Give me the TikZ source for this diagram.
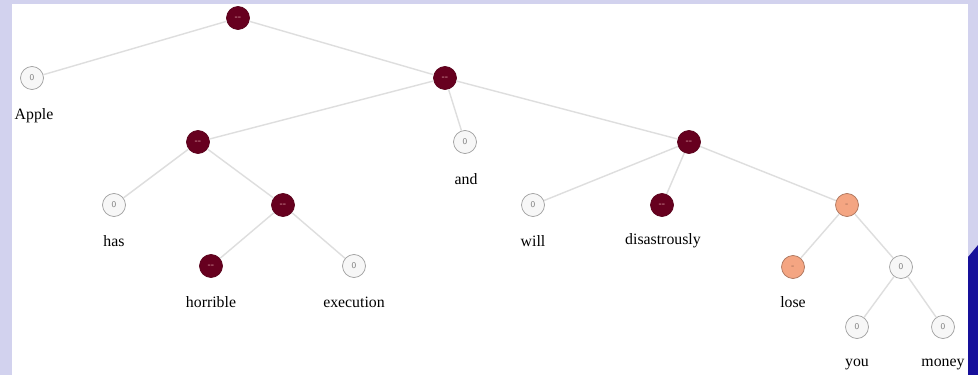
\documentclass[tikz,border=0pt]{standalone}
\usepackage{fontspec}
\setmainfont{Liberation Serif}
\usetikzlibrary{positioning}
\usepackage{xcolor}
\definecolor{frame}{HTML}{D2D2EE}
\definecolor{deepblue}{HTML}{17109A}
\definecolor{vneg}{HTML}{67001F}
\definecolor{neg}{HTML}{F4A582}
\definecolor{zero}{HTML}{F7F7F7}
\definecolor{branchc}{HTML}{DEDEDE}

\begin{document}
\begin{tikzpicture}[x=0.02cm, y=-0.02cm, font=\fontsize{9}{10}\selectfont]
				\tikzstyle{vnegnode} = [circle, draw=vneg!85!black, fill=vneg, minimum size=0.46cm, inner sep=0pt, text=pink!80, font=\sffamily\fontsize{5}{5}\selectfont]
				\tikzstyle{negnode} = [circle, draw=neg!70!black, fill=neg, minimum size=0.46cm, inner sep=0pt, text=neg!55!black, font=\sffamily\fontsize{5}{5}\selectfont]
				\tikzstyle{zeronode} = [circle, draw=gray!75, fill=zero, minimum size=0.46cm, inner sep=0pt, text=gray, font=\sffamily\fontsize{5}{5}\selectfont]
				\tikzstyle{word} = [draw=none, inner sep=0pt]
				\tikzstyle{branch} = [draw=branchc, line width=0.8pt]
				
				% frame of the screenshot
				\fill[frame] (0,0) rectangle (978,375);
				\fill[white] (12,4) rectangle (968,375);
				\fill[deepblue] (968,257) -- (978,245) -- (978,375) -- (968,375) -- cycle;
				
				\node[vnegnode] 	at (238, 18)	(root)	{-{}-};
				\node[zeronode] 	at (32, 78)		(apple)	{0};
				\node[vnegnode] 	at (445, 78)	(p1)	{-{}-};
				\node[vnegnode] 	at (198, 142)	(p2)	{-{}-};
				\node[zeronode] 	at (465, 142)	(and)	{0};
				\node[vnegnode] 	at (689, 142)	(p3)	{-{}-};
				\node[zeronode] 	at (114, 205)	(has)	{0};
				\node[vnegnode] 	at (283, 205)	(p4)	{-{}-};
				\node[zeronode] 	at (533, 205)	(will)	{0};
				\node[vnegnode] 	at (662, 205)	(disas)	{-{}-};
				\node[negnode] 		at (847, 205)	(p5)	{-};
				\node[vnegnode] 	at (211, 266)	(horr)	{-{}-};
				\node[zeronode] 	at (354, 266)	(exec)	{0};
				\node[negnode] 		at (793, 267)	(lose)	{-};
				\node[zeronode] 	at (901, 267)	(p6)	{0};
				\node[zeronode] 	at (857, 327)	(you)	{0};
				\node[zeronode] 	at (943, 327)	(money)	{0};
				
				\node[word] 		at (34, 116)	(tapple)	{Apple};
				\node[word] 		at (466, 179)	(tand)		{and};
				\node[word] 		at (114, 241)	(thas)		{has};
				\node[word] 		at (533, 241)	(twill)		{will};
				\node[word] 		at (663, 241)	(tdisas)	{disastrously};
				\node[word] 		at (211, 302)	(thorr)		{horrible};
				\node[word] 		at (354, 302)	(texec)		{execution};
				\node[word] 		at (793, 302)	(tlose)		{lose};
				\node[word] 		at (857, 364)	(tyou)		{you};
				\node[word] 		at (943, 364)	(tmoney)	{money};
				
				\path[branch]
				(root)	edge	(apple)
				(root)	edge	(p1)
				(p1)	edge	(p2)
				(p1)	edge	(and)
				(p1)	edge	(p3)
				(p2)	edge	(has)
				(p2)	edge	(p4)
				(p4)	edge	(horr)
				(p4)	edge	(exec)
				(p3)	edge	(will)
				(p3)	edge	(disas)
				(p3)	edge	(p5)
				(p5)	edge	(lose)
				(p5)	edge	(p6)
				(p6)	edge	(you)
				(p6)	edge	(money);
			\end{tikzpicture}
\end{document}
